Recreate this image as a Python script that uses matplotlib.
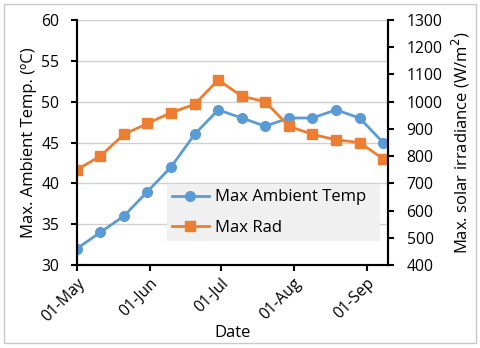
import matplotlib
matplotlib.use("Agg")
import matplotlib.pyplot as plt
import matplotlib.dates as mdates
import numpy as np
import datetime as dt
from matplotlib.patches import Rectangle

plt.rcParams['font.family'] = ['Open Sans', 'DejaVu Sans']

dates = ["2020-05-01", "2020-05-11", "2020-05-21", "2020-05-31", "2020-06-10", "2020-06-20",
         "2020-06-30", "2020-07-10", "2020-07-20", "2020-07-30", "2020-08-09", "2020-08-19",
         "2020-08-29", "2020-09-08"]
temp = [32, 34, 36, 39, 42, 46, 49, 48, 47, 48, 48, 49, 48, 45]
rad = [750, 800, 880, 920, 960, 990, 1080, 1020, 1000, 910, 880, 860, 850, 790]
tick_dates = ["2020-05-01", "2020-06-01", "2020-07-01", "2020-08-01", "2020-09-01"]

x = [dt.datetime.strptime(d, "%Y-%m-%d") for d in dates]
xt = [dt.datetime.strptime(d, "%Y-%m-%d") for d in tick_dates]

blue = "#5B9BD5"
orange = "#ED7D31"

fig = plt.figure(figsize=(4.8, 3.48), dpi=100)
fig.patches.append(Rectangle((0.008, 0.014), 0.984, 0.974, transform=fig.transFigure,
                             fill=False, edgecolor="#c8c8c8", linewidth=1.0))
ax = fig.add_axes([0.160, 0.2385, 0.648, 0.704])
ax2 = ax.twinx()

l1, = ax.plot(x, temp, color=blue, marker="o", markersize=7, linewidth=2, label="Max Ambient Temp")
l2, = ax2.plot(x, rad, color=orange, marker="s", markersize=7, linewidth=2, label="Max Rad")

ax.set_ylim(30, 60)
ax.set_yticks(np.arange(30, 61, 5))
ax2.set_ylim(400, 1300)
ax2.set_yticks(np.arange(400, 1301, 100))
ax.set_xlim(dt.datetime(2020, 5, 1), dt.datetime(2020, 9, 10))
ax.set_xticks(xt)
ax.xaxis.set_major_formatter(mdates.DateFormatter("%d-%b"))

ax.grid(axis="y", color="#d0d0d0", linewidth=1)
ax.set_axisbelow(True)
for a in (ax, ax2):
    for s in a.spines.values():
        s.set_color("black")
        s.set_linewidth(1.5)
    a.spines["top"].set_visible(False)
    a.tick_params(labelsize=11.3, width=1.5, length=4.5, color="black", direction="out")
ax.tick_params(axis="y", pad=8)
ax.tick_params(axis="x", pad=3)
ax2.tick_params(axis="y", pad=9)
for lab in ax.get_xticklabels():
    lab.set_rotation(45)
    lab.set_ha("right")
    lab.set_rotation_mode("anchor")

ax.set_ylabel("Max. Ambient Temp. (ºC)", fontsize=12, labelpad=3)
ax2.set_ylabel("Max. solar irradiance (W/m$^2$)", fontsize=12, labelpad=5)
ax.set_xlabel("Date", fontsize=12, labelpad=0)

leg = ax2.legend(handles=[l1, l2], loc="lower left", bbox_to_anchor=(0.29, 0.10, 0.685, 0.26),
                 mode="expand", fontsize=12, frameon=True, fancybox=False,
                 facecolor="#f0f0f0", edgecolor="none", framealpha=1, handlelength=2.2,
                 borderaxespad=0, labelspacing=0.85, borderpad=0.3, handletextpad=0.4)
fig.savefig("out.png", dpi=100)
